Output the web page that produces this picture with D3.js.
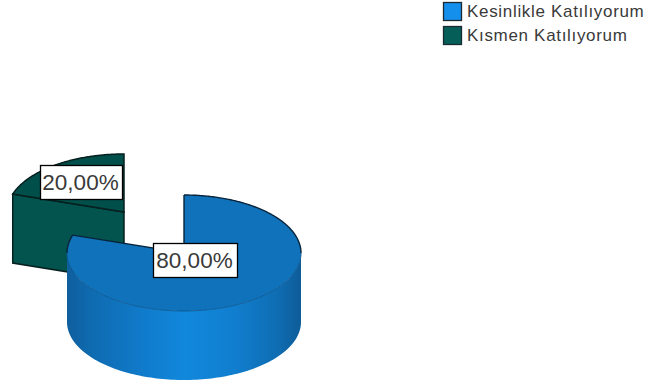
<!DOCTYPE html>
<html><head><meta charset="utf-8">
<script src="https://cdn.jsdelivr.net/npm/d3@7"></script>
<style>html,body{margin:0;padding:0;background:#fff}svg{display:block}text{font-family:"Liberation Sans",Arial,sans-serif}</style>
</head><body><svg id="c" width="648" height="383"></svg>
<script>
const categories = ["Kesinlikle Katılıyorum", "Kısmen Katılıyorum"];
const values = [80, 20];
const valueLabels = ["80,00%", "20,00%"];
const legendColors = ["#1490ec", "#065e59"];
const topColors = ["#1072ba", "#004f4a"];

const svg = d3.select("#c");
const rx = 117, ry = 58, depth = 69;
const pie = d3.pie().sort(null).value(d => d);
const arcs = pie(values);
const centers = [{x:184,y:253},{x:124,y:212}];
const labelBoxes = [{x:153,y:243,w:84,h:34},{x:40,y:165,w:82,h:34}];
const pt = (c,a,dy=0) => [c.x + rx*Math.sin(a), c.y - ry*Math.cos(a) + dy];
const line = d3.line();
const sample = (c,a0,a1,dy) => d3.range(0,121).map(i => pt(c,a0+(a1-a0)*i/120,dy));
const edge = "#06201f";

const defs = svg.append("defs");
const grad = defs.append("linearGradient").attr("id","wall").attr("gradientUnits","userSpaceOnUse")
  .attr("x1",68).attr("x2",301).attr("y1",0).attr("y2",0);
[[0,"#0f5f9e"],[.1,"#0f6bb0"],[.3,"#1079c8"],[.5,"#1188dc"],[.7,"#117fd0"],[.9,"#0f6db2"],[1,"#0e5c98"]]
  .forEach(s => grad.append("stop").attr("offset",s[0]).attr("stop-color",s[1]));

// green slice (behind)
const g = arcs[1], gc = centers[1];
const gFace = [pt(gc,g.startAngle),[gc.x,gc.y],[gc.x,gc.y+depth],pt(gc,g.startAngle,depth)];
svg.append("path").attr("d",line(gFace)+"Z").attr("fill","#03544f").attr("stroke",edge).attr("stroke-width",1.5);
const gTop = [[gc.x,gc.y],...sample(gc,g.startAngle,g.endAngle,0)];
svg.append("path").attr("d",line(gTop)+"Z").attr("fill",topColors[1]).attr("stroke",edge).attr("stroke-width",1.5);

// blue slice
const b = arcs[0], bc = centers[0];
const wallTop = sample(bc,Math.PI/2,1.5*Math.PI,0);
const wallBot = sample(bc,Math.PI/2,1.5*Math.PI,depth).reverse();
svg.append("path").attr("d",line([...wallTop,...wallBot])+"Z").attr("fill","url(#wall)");
svg.append("path").attr("d",line([[bc.x,bc.y],...sample(bc,b.startAngle,b.endAngle,0)])+"Z").attr("fill",topColors[0]);
svg.append("path").attr("d",line(sample(bc,Math.PI/2,1.5*Math.PI,0))).attr("fill","none").attr("stroke","#0c5c99").attr("stroke-width",1);
const outline = d => svg.append("path").attr("d",line(d)).attr("fill","none").attr("stroke","#08243a").attr("stroke-width",1.4);
outline(sample(bc,b.startAngle,Math.PI/2,0));
outline(sample(bc,1.5*Math.PI,b.endAngle,0));
outline([pt(bc,b.endAngle),[bc.x,bc.y],pt(bc,0)]);

// value labels
valueLabels.forEach((t,i)=>{
  const r = labelBoxes[i];
  svg.append("rect").attr("x",r.x+.5).attr("y",r.y+.5).attr("width",r.w).attr("height",r.h).attr("fill","#fff").attr("stroke","#000").attr("stroke-width",1.3);
  svg.append("text").attr("x",r.x+r.w/2-.5).attr("y",r.y+25).attr("text-anchor","middle").attr("font-size",22.5).attr("fill","#3a3a3a").text(t);
});

// legend
categories.forEach((t,i)=>{
  const y = 2+i*24;
  svg.append("rect").attr("x",443.5).attr("y",y+.5).attr("width",18).attr("height",18).attr("fill",legendColors[i]).attr("stroke","#1a2a30").attr("stroke-width",1.3);
  svg.append("text").attr("x",467).attr("y",y+15).attr("font-size",17).attr("letter-spacing",0.68).attr("fill","#3a3a3a").text(t);
});
</script></body></html>
